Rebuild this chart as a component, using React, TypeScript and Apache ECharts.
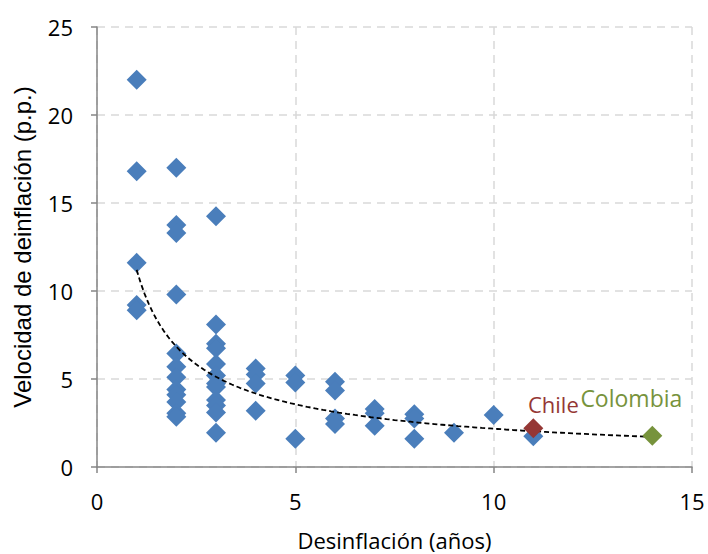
import React, { useEffect, useRef } from "react";
import * as echarts from "echarts";

const xTicks = [0, 5, 10, 15];
const yTicks = [0, 5, 10, 15, 20, 25];

// Desinflación (años), Velocidad (p.p.)
const otherYears = [
  1, 1, 1, 1, 1,
  2, 2, 2, 2, 2, 2, 2, 2, 2, 2, 2, 2,
  3, 3, 3, 3, 3, 3, 3, 3, 3, 3, 3, 3,
  4, 4, 4, 4,
  5, 5, 5,
  6, 6, 6, 6,
  7, 7, 7,
  8, 8, 8,
  9, 10, 11,
];
const otherSpeed = [
  22.0, 16.8, 11.6, 9.2, 8.9,
  17.0, 13.75, 13.3, 9.8, 6.45, 5.7, 5.1, 4.4, 4.1, 3.7, 3.05, 2.85,
  14.25, 8.1, 7.0, 6.75, 5.85, 5.2, 4.75, 4.55, 3.8, 3.5, 3.1, 1.95,
  5.6, 5.25, 4.75, 3.2,
  5.2, 4.8, 1.6,
  4.85, 4.35, 2.75, 2.45,
  3.3, 3.05, 2.35,
  3.0, 2.75, 1.6,
  1.95, 2.95, 1.75,
];
const chile = [11, 2.2];
const colombia = [14, 1.78];

const BLUE = "#4a7ebb";
const RED = "#953735";
const GREEN = "#77933c";
const FONT = "Open Sans";

function powerFit(xs: number[], ys: number[]) {
  const n = xs.length;
  let sx = 0, sy = 0, sxx = 0, sxy = 0;
  for (let i = 0; i < n; i++) {
    const lx = Math.log(xs[i]);
    const ly = Math.log(ys[i]);
    sx += lx; sy += ly; sxx += lx * lx; sxy += lx * ly;
  }
  const b = (n * sxy - sx * sy) / (n * sxx - sx * sx);
  const a = Math.exp((sy - b * sx) / n);
  return { a, b };
}

export default function App() {
  const ref = useRef<HTMLDivElement>(null);
  useEffect(() => {
    if (!ref.current) return;
    const chart = echarts.init(ref.current, undefined, { renderer: "svg" });
    const allX = [...otherYears, chile[0], colombia[0]];
    const allY = [...otherSpeed, chile[1], colombia[1]];
    const { a, b } = powerFit(allX, allY);
    const trend: number[][] = [];
    for (let x = 1; x <= 14.0001; x += 0.1) trend.push([x, a * Math.pow(x, b)]);

    chart.setOption({
      animation: false,
      grid: {
        left: 97, right: 16, top: 27, bottom: 87,
        containLabel: false,
        outerBoundsMode: "none",
      },
      xAxis: {
        type: "value",
        min: 0,
        max: 15,
        interval: 5,
        name: "Desinflación (años)",
        nameLocation: "middle",
        nameGap: 62,
        nameTextStyle: { fontFamily: FONT, fontSize: 22, color: "#000", lineHeight: 22 },
        axisLine: { show: true, onZero: false, lineStyle: { color: "#868686", width: 1.5 } },
        axisTick: { show: true, inside: false, length: 6, lineStyle: { color: "#868686", width: 1.5 } },
        axisLabel: { fontFamily: FONT, fontSize: 22, color: "#000", margin: 23, hideOverlap: false },
        splitLine: { show: true, lineStyle: { color: "#d9d9d9", type: [8, 6], width: 1.5 } },
      },
      yAxis: {
        type: "value",
        min: 0,
        max: 25,
        interval: 5,
        name: "Velocidad de deinflación (p.p.)",
        nameLocation: "middle",
        nameGap: 63,
        nameRotate: 90,
        nameTextStyle: { fontFamily: "Liberation Sans", fontSize: 24, color: "#000" },
        axisLine: { show: true, lineStyle: { color: "#868686", width: 1.5 } },
        axisTick: { show: true, inside: false, length: 6, lineStyle: { color: "#868686", width: 1.5 } },
        axisLabel: { fontFamily: FONT, fontSize: 22, color: "#000", margin: 24 },
        splitLine: { show: true, lineStyle: { color: "#d9d9d9", type: [8, 6], width: 1.5 } },
      },
      series: [
        {
          type: "line",
          data: trend,
          showSymbol: false,
          symbol: "none",
          lineStyle: { color: "#000", width: 1.8, type: [5, 3] },
          z: 3,
          silent: true,
        },
        {
          type: "scatter",
          data: otherYears.map((x, i) => [x, otherSpeed[i]]),
          symbol: "diamond",
          symbolSize: [20, 20],
          itemStyle: { color: BLUE, opacity: 1 },
          z: 2,
        },
        {
          type: "scatter",
          data: [chile],
          symbol: "diamond",
          symbolSize: [20, 20],
          itemStyle: { color: RED, opacity: 1 },
          label: {
            show: true,
            formatter: "Chile",
            position: "inside",
            offset: [20, -24],
            fontFamily: FONT,
            fontSize: 22,
            color: RED,
          },
          z: 4,
        },
        {
          type: "scatter",
          data: [colombia],
          symbol: "diamond",
          symbolSize: [20, 20],
          itemStyle: { color: GREEN, opacity: 1 },
          label: {
            show: true,
            formatter: "Colombia",
            position: "inside",
            offset: [-21, -38],
            fontFamily: FONT,
            fontSize: 23,
            color: GREEN,
          },
          z: 4,
        },
      ],
    });
    return () => chart.dispose();
  }, []);
  return (
    <div
      ref={ref}
      style={{ position: "fixed", left: 0, top: 0, width: 708, height: 554, background: "#fff" }}
    />
  );
}
